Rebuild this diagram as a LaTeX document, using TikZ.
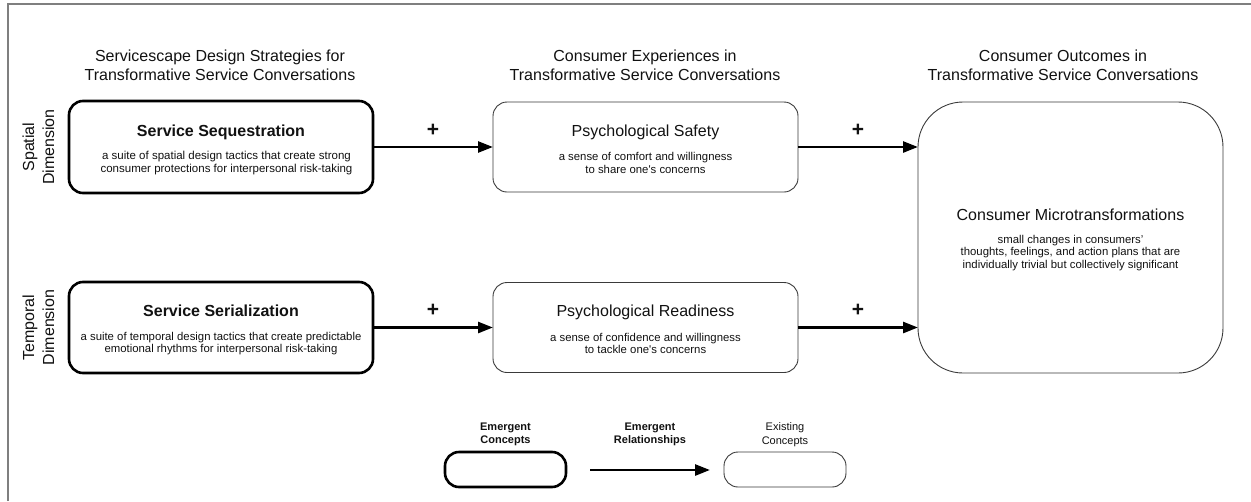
\documentclass[tikz,border=0pt]{standalone}
\usepackage{fontspec}
\setmainfont{Liberation Sans}
\usetikzlibrary{arrows.meta}
\definecolor{framegray}{HTML}{7F7F7F}
\definecolor{thinline}{HTML}{3A3A3A}
\definecolor{ink}{HTML}{111111}
\begin{document}
\begin{tikzpicture}[x=1pt,y=-1pt,
  every node/.style={inner sep=0pt,outer sep=0pt,text=ink},
  emergentbox/.style={draw=black,line width=2.6pt,rounded corners=14pt},
  existingbox/.style={draw=thinline,line width=0.9pt,rounded corners=14pt},
  flow/.style={draw=black,line width=2.6pt,-{Triangle[length=15pt,width=11pt]}},
  heading/.style={align=center,font=\fontsize{16}{19}\selectfont},
  dimlabel/.style={align=center,rotate=90,font=\fontsize{16}{20}\selectfont},
  boxtitle/.style={anchor=base,font=\fontsize{16}{19}\selectfont},
  boxdesc/.style={align=center,font=\fontsize{11.35}{12.6}\selectfont},
  plussign/.style={font=\fontsize{21}{21}\selectfont\bfseries},
  legendhead/.style={align=center,font=\fontsize{11}{13.5}\selectfont},
  legendbold/.style={align=center,font=\fontsize{11}{13.5}\selectfont\bfseries}
]
\useasboundingbox (0,0) rectangle (1251,501);
% outer frame (top and left edges only)
\draw[framegray,line width=1.5pt] (8,501) -- (8,4) -- (1251,4);

% column headings
\node[heading] (h1) at (220,65.5) {Servicescape Design Strategies for\\Transformative Service Conversations};
\node[heading] (h2) at (645,65.5) {Consumer Experiences in\\Transformative Service Conversations};
\node[heading] (h3) at (1063,65.5) {Consumer Outcomes in\\Transformative Service Conversations};

% row labels
\node[dimlabel] (dim1) at (38.4,147) {Spatial\\Dimension};
\node[dimlabel] (dim2) at (38.4,327.5) {Temporal\\Dimension};

% design strategies (emergent concepts)
\node[emergentbox,minimum width=304pt,minimum height=92pt] (seq) at (221,147) {};
\node[boxtitle,font=\fontsize{16}{19}\selectfont\bfseries] (seqT) at ([yshift=11pt]seq.center) {Service Sequestration};
\node[boxdesc,font=\fontsize{11.5}{12.7}\selectfont] (seqD) at ([xshift=5.5pt,yshift=-16.2pt]seq.center) {a suite of spatial design tactics that create strong\\consumer protections for interpersonal risk-taking};

\node[emergentbox,minimum width=304pt,minimum height=91pt] (ser) at (221,327.5) {};
\node[boxtitle,font=\fontsize{16}{19}\selectfont\bfseries] (serT) at ([yshift=11pt]ser.center) {Service Serialization};
\node[boxdesc] (serD) at ([yshift=-16pt]ser.center) {a suite of temporal design tactics that create predictable\\emotional rhythms for interpersonal risk-taking};

% consumer experiences (existing concepts)
\node[existingbox,minimum width=305pt,minimum height=90pt] (safe) at (645.5,147) {};
\node[boxtitle] (safeT) at ([yshift=11pt]safe.center) {Psychological Safety};
\node[boxdesc] (safeD) at ([yshift=-16pt]safe.center) {a sense of comfort and willingness\\to share one\textquotesingle s concerns};

\node[existingbox,minimum width=305pt,minimum height=90pt] (ready) at (645.5,327.5) {};
\node[boxtitle] (readyT) at ([yshift=11pt]ready.center) {Psychological Readiness};
\node[boxdesc] (readyD) at ([yshift=-16pt]ready.center) {a sense of confidence and willingness\\to tackle one\textquotesingle s concerns};

% consumer outcome
\node[existingbox,rounded corners=45pt,minimum width=305pt,minimum height=271pt] (micro) at (1070.5,237.5) {};
\node[boxtitle] (microT) at ([yshift=17.5pt]micro.center) {Consumer Microtransformations};
\node[boxdesc] (microD) at ([yshift=-15.5pt]micro.center) {small changes in consumers’\\thoughts, feelings, and action plans that are\\individually trivial but collectively significant};

% relationships
\draw[flow] (seq.east) -- (safe.west);
\draw[flow] (safe.east) -- (safe.east -| micro.west);
\draw[flow] (ser.east) -- (ready.west);
\draw[flow] (ready.east) -- (ready.east -| micro.west);
\node[plussign] (p1) at (433,130) {+};
\node[plussign] (p2) at (858,130) {+};
\node[plussign] (p3) at (433,310) {+};
\node[plussign] (p4) at (858,310) {+};

% legend
\node[legendbold] (lgE) at (505.5,434.5) {Emergent\\Concepts};
\node[emergentbox,minimum width=121pt,minimum height=35pt] (lgEbox) at (505.5,469.5) {};
\node[legendbold] (lgR) at (650,434.5) {Emergent\\Relationships};
\coordinate (lgA1) at (590,470);
\coordinate (lgA2) at (710,470);
\draw[flow] (lgA1) -- (lgA2);
\node[legendhead] (lgX) at (785,434.5) {Existing\\Concepts};
\node[existingbox,minimum width=122pt,minimum height=35pt] (lgXbox) at (785,469.5) {};
\end{tikzpicture}
\end{document}
